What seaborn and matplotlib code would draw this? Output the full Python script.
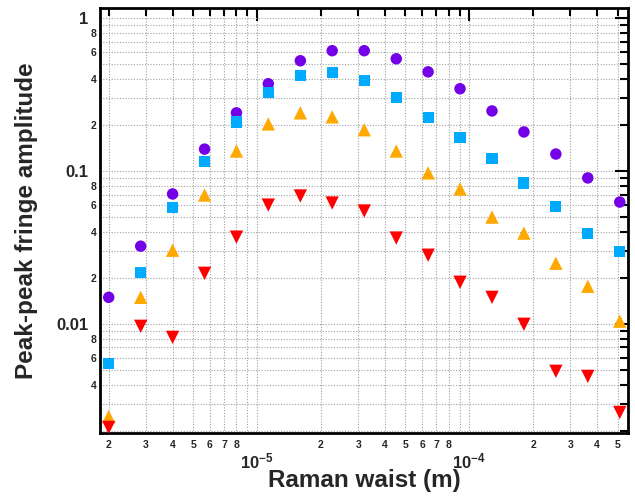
import numpy as np
import pandas as pd
import matplotlib
matplotlib.use("Agg")
import matplotlib.pyplot as plt
import matplotlib.ticker as mticker
import seaborn as sns

# Raman waist (m)
waist = [2.0e-6, 2.83e-6, 4.0e-6, 5.66e-6, 8.0e-6, 1.13e-5, 1.6e-5, 2.26e-5,
         3.2e-5, 4.53e-5, 6.4e-5, 9.05e-5, 1.28e-4, 1.81e-4, 2.56e-4,
         3.62e-4, 5.12e-4]

# peak-peak fringe amplitude, one list per series
amp_circle = [0.0149, 0.0322, 0.0707, 0.139, 0.240, 0.372, 0.526, 0.612,
              0.612, 0.542, 0.445, 0.345, 0.247, 0.180, 0.129, 0.090, 0.0626]
amp_square = [0.00551, 0.0218, 0.0580, 0.1146, 0.209, 0.325, 0.420, 0.439,
              0.389, 0.301, 0.223, 0.165, 0.120, 0.0834, 0.0589, 0.0392, 0.0299]
amp_up = [0.00247, 0.0149, 0.0303, 0.0696, 0.135, 0.203, 0.240, 0.226,
          0.186, 0.135, 0.0971, 0.0762, 0.0499, 0.0392, 0.0249, 0.0176, 0.0104]
amp_down = [0.00210, 0.00963, 0.00815, 0.0214, 0.0369, 0.0598, 0.0686, 0.0617,
            0.0547, 0.0364, 0.0281, 0.0187, 0.0149, 0.00993, 0.00489, 0.00453,
            0.00263]

series_names = ["circle", "square", "up", "down"]

df = pd.concat([
    pd.DataFrame({"waist": waist, "amp": amp_circle, "series": "circle"}),
    pd.DataFrame({"waist": waist, "amp": amp_square, "series": "square"}),
    pd.DataFrame({"waist": waist, "amp": amp_up, "series": "up"}),
    pd.DataFrame({"waist": waist, "amp": amp_down, "series": "down"}),
], ignore_index=True)

palette = {"circle": "#7300E6", "square": "#00AAFF", "up": "#FFA800", "down": "#FF0000"}
markers = {"circle": "o", "square": "s", "up": "^", "down": "v"}
sizes = {"circle": 68, "square": 64, "up": 92, "down": 92}

sns.set_style("white")
plt.rcParams["font.family"] = ["Liberation Sans", "DejaVu Sans"]
plt.rcParams["font.weight"] = "bold"
plt.rcParams["mathtext.fontset"] = "custom"
plt.rcParams["mathtext.rm"] = "Liberation Sans:bold"
plt.rcParams["mathtext.bf"] = "Liberation Sans:bold"
plt.rcParams["mathtext.default"] = "regular"

fig = plt.figure(figsize=(6.35, 4.98), dpi=100)
ax = fig.add_axes([0.1575, 0.1305, 0.8315, 0.8535])

sns.scatterplot(data=df, x="waist", y="amp", hue="series", style="series",
                size="series", palette=palette, markers=markers, sizes=sizes,
                hue_order=series_names, style_order=series_names,
                size_order=series_names, linewidth=0, legend=False,
                zorder=3, ax=ax)

ax.set_xscale("log")
ax.set_yscale("log")
ax.set_xlim(1.82e-6, 5.6e-4)
ax.set_ylim(0.00193, 1.165)

# x ticks
ax.xaxis.set_major_locator(mticker.FixedLocator([1e-5, 1e-4]))
ax.xaxis.set_major_formatter(mticker.FixedFormatter([r"$10^{-5}$", r"$10^{-4}$"]))
ax.xaxis.set_minor_locator(mticker.LogLocator(base=10, subs=np.arange(2, 10)))


def x_minor(v, pos):
    d = int(round(v / 10 ** np.floor(np.log10(v) + 1e-9)))
    return str(d) if d <= 8 else ""


ax.xaxis.set_minor_formatter(mticker.FuncFormatter(x_minor))

# y ticks
ax.yaxis.set_major_locator(mticker.FixedLocator([0.01, 0.1, 1]))
ax.yaxis.set_major_formatter(mticker.FixedFormatter(["0.01", "0.1", "1"]))
ax.yaxis.set_minor_locator(mticker.LogLocator(base=10, subs=np.arange(2, 10)))


def y_minor(v, pos):
    if v < 0.0025:
        return ""
    d = int(round(v / 10 ** np.floor(np.log10(v) + 1e-9)))
    return str(d) if d % 2 == 0 else ""


ax.yaxis.set_minor_formatter(mticker.FuncFormatter(y_minor))

ax.tick_params(which="both", direction="in", top=True, right=True,
               width=1.5, color="black")
ax.tick_params(which="major", length=9.5, labelsize=12)
ax.tick_params(which="minor", length=5.5, labelsize=7.5)
ax.tick_params(axis="y", which="major", pad=8.5)
ax.tick_params(axis="y", which="minor", pad=2.5)
ax.tick_params(axis="x", which="major", pad=13.5)
ax.tick_params(axis="x", which="minor", pad=5)

ax.grid(True, which="both", linestyle=(0, (1, 1.5)), color="#a0a0a0",
        linewidth=0.8, zorder=0)
ax.set_axisbelow(True)

for sp in ax.spines.values():
    sp.set_linewidth(2)
    sp.set_color("black")

ax.set_xlabel("Raman waist (m)", fontsize=17.5, fontweight="bold")
ax.set_ylabel("Peak-peak fringe amplitude", fontsize=17.5, fontweight="bold")
ax.xaxis.set_label_coords(0.5, -0.085)
ax.yaxis.set_label_coords(-0.117, 0.5)

fig.savefig("out.png", dpi=100)
